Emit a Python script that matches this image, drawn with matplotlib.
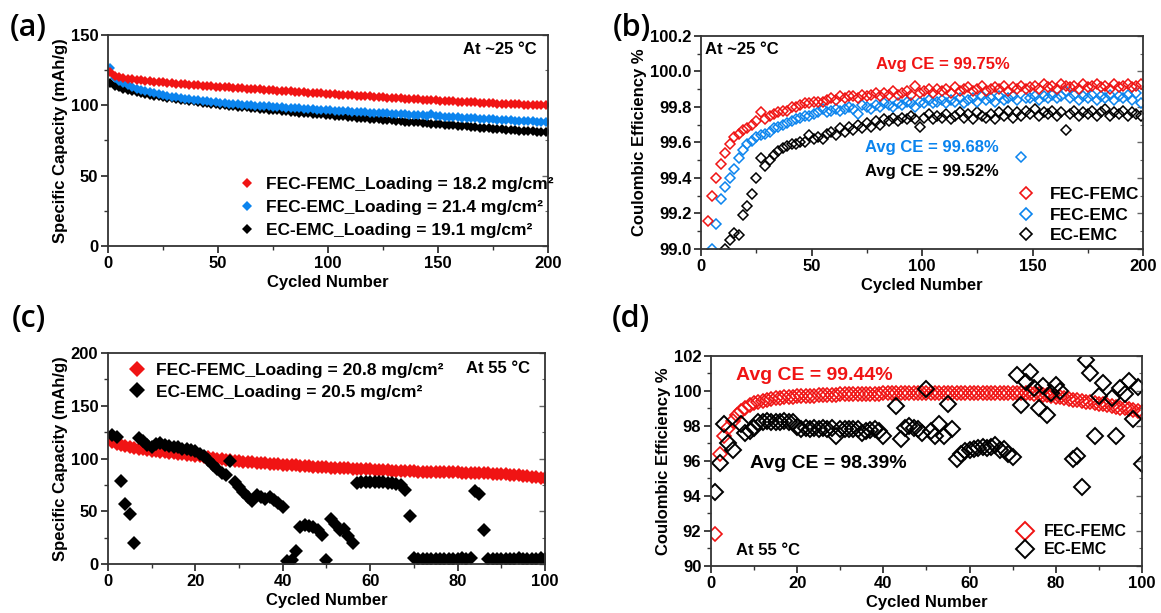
import numpy as np
import matplotlib.pyplot as plt
from matplotlib.lines import Line2D
from matplotlib.ticker import MultipleLocator

plt.rcParams['font.family'] = ['Liberation Sans', 'DejaVu Sans']
plt.rcParams['font.weight'] = 'bold'
plt.rcParams['axes.labelweight'] = 'bold'

RED = '#f01414'
BLUE = '#0b84ee'
BLACK = '#000000'

# ---------------- (a) capacity at ~25 C, every 2nd cycle ----------------
cyc_a = np.arange(1, 201, 2)
cap_fec_femc_a = [
    123.5, 120.5, 119.8, 119.3, 118.9, 118.5, 118.1, 117.8, 117.5, 117.2,
    116.9, 116.6, 116.3, 116.0, 115.7, 115.5, 115.2, 115.0, 114.7, 114.5,
    114.2, 114.0, 113.8, 113.5, 113.3, 113.1, 112.9, 112.7, 112.5, 112.3,
    112.1, 111.9, 111.7, 111.5, 111.3, 111.1, 110.9, 110.7, 110.5, 110.3,
    110.1, 109.9, 109.7, 109.5, 109.3, 109.1, 108.9, 108.7, 108.5, 108.3,
    108.1, 107.9, 107.7, 107.5, 107.3, 107.1, 106.9, 106.7, 106.5, 106.3,
    106.1, 105.9, 105.7, 105.5, 105.3, 105.1, 104.9, 104.7, 104.5, 104.4,
    104.2, 104.0, 103.9, 103.7, 103.5, 103.4, 103.2, 103.0, 102.9, 102.7,
    102.5, 102.4, 102.2, 102.1, 101.9, 101.8, 101.6, 101.5, 101.3, 101.2,
    101.0, 100.9, 100.8, 100.6, 100.5, 100.4, 100.3, 100.2, 100.1, 100.0]
cap_fec_emc_a = [
    126.5, 119.5, 117.5, 115.8, 114.3, 113.0, 111.9, 110.9, 110.0, 109.2,
    108.5, 107.8, 107.2, 106.6, 106.1, 105.6, 105.1, 104.7, 104.3, 103.9,
    103.5, 103.1, 102.8, 102.5, 102.2, 101.9, 101.6, 101.3, 101.0, 100.8,
    100.5, 100.3, 100.0, 99.8, 99.6, 99.4, 99.2, 99.0, 98.8, 98.6,
    98.4, 98.2, 98.0, 97.8, 97.6, 97.4, 97.2, 97.0, 96.9, 96.7,
    96.5, 96.3, 96.1, 95.9, 95.8, 95.6, 95.4, 95.2, 95.0, 94.9,
    94.7, 94.5, 94.3, 94.2, 94.0, 93.8, 93.6, 93.5, 93.3, 93.1,
    92.9, 92.8, 92.6, 93.6, 92.3, 92.1, 91.9, 91.8, 91.6, 91.4,
    91.2, 91.1, 90.9, 90.7, 90.5, 90.4, 90.2, 90.0, 89.9, 89.7,
    89.5, 89.4, 89.2, 89.0, 88.9, 88.7, 88.6, 88.4, 88.2, 88.1]
cap_ec_emc_a = [
    116.0, 114.0, 112.8, 111.8, 110.9, 110.1, 109.4, 108.7, 108.1, 107.5,
    106.9, 106.4, 105.9, 105.4, 104.9, 104.4, 104.0, 103.6, 103.2, 102.8,
    102.4, 102.0, 101.6, 101.2, 100.8, 100.4, 100.0, 99.7, 99.4, 99.1,
    98.8, 98.5, 98.2, 97.9, 97.6, 97.3, 97.0, 96.7, 96.4, 96.1,
    95.8, 95.5, 95.2, 94.9, 94.6, 94.3, 94.1, 93.8, 93.5, 93.2,
    93.0, 92.7, 92.4, 92.1, 91.9, 91.6, 91.3, 91.1, 90.8, 90.6,
    90.3, 90.0, 89.8, 89.5, 89.3, 89.0, 88.8, 88.5, 88.3, 88.0,
    87.8, 87.5, 87.3, 87.0, 86.8, 86.6, 86.3, 86.1, 85.9, 85.6,
    85.4, 85.2, 84.9, 84.5, 84.1, 83.8, 83.6, 83.4, 83.1, 82.9,
    82.7, 82.5, 82.2, 82.0, 81.8, 81.6, 81.4, 81.2, 81.0, 80.8]

# ---------------- (b) CE at ~25 C, every 2nd cycle ----------------
cyc_b_fec_femc = np.arange(3, 201, 2)
ce_fec_femc_b = [
    99.16, 99.30, 99.40, 99.48, 99.54, 99.59, 99.63, 99.65, 99.67, 99.68,
    99.70, 99.72, 99.77, 99.73, 99.75, 99.76, 99.77, 99.78, 99.78, 99.80,
    99.80, 99.81, 99.82, 99.82, 99.83, 99.83, 99.83, 99.84, 99.85, 99.84,
    99.86, 99.85, 99.86, 99.86, 99.85, 99.87, 99.86, 99.87, 99.88, 99.86,
    99.88, 99.87, 99.89, 99.87, 99.88, 99.89, 99.87, 99.92, 99.88, 99.89,
    99.90, 99.88, 99.90, 99.89, 99.90, 99.88, 99.91, 99.89, 99.90, 99.91,
    99.89, 99.90, 99.92, 99.89, 99.90, 99.91, 99.90, 99.92, 99.89, 99.91,
    99.90, 99.92, 99.90, 99.91, 99.92, 99.90, 99.93, 99.91, 99.92, 99.90,
    99.93, 99.92, 99.91, 99.92, 99.90, 99.93, 99.91, 99.92, 99.93, 99.91,
    99.92, 99.90, 99.93, 99.91, 99.92, 99.93, 99.91, 99.92, 99.93]
cyc_b_fec_emc = np.arange(5, 201, 2)
ce_fec_emc_b = [
    99.00, 99.14, 99.28, 99.35, 99.40, 99.45, 99.51, 99.56, 99.59, 99.61,
    99.63, 99.64, 99.65, 99.66, 99.68, 99.69, 99.70, 99.71, 99.72, 99.73,
    99.74, 99.75, 99.75, 99.76, 99.77, 99.79, 99.77, 99.78, 99.79, 99.78,
    99.79, 99.80, 99.79, 99.76, 99.81, 99.80, 99.79, 99.81, 99.80, 99.82,
    99.81, 99.80, 99.82, 99.81, 99.83, 99.82, 99.80, 99.83, 99.82, 99.84,
    99.82, 99.83, 99.84, 99.82, 99.84, 99.83, 99.85, 99.82, 99.84, 99.85,
    99.83, 99.86, 99.84, 99.85, 99.83, 99.86, 99.84, 99.85, 99.86, 99.84,
    99.52, 99.85, 99.85, 99.86, 99.84, 99.86, 99.85, 99.87, 99.85, 99.86,
    99.89, 99.85, 99.87, 99.84, 99.86, 99.85, 99.87, 99.84, 99.86, 99.85,
    99.87, 99.84, 99.86, 99.85, 99.87, 99.84, 99.88, 99.82]
cyc_b_ec_emc = np.arange(11, 201, 2)
ce_ec_emc_b = [
    99.00, 99.05, 99.09, 99.08, 99.19, 99.24, 99.31, 99.40, 99.51, 99.47,
    99.50, 99.53, 99.55, 99.57, 99.58, 99.59, 99.59, 99.60, 99.60, 99.64,
    99.62, 99.63, 99.62, 99.65, 99.66, 99.64, 99.68, 99.66, 99.69, 99.67,
    99.70, 99.68, 99.71, 99.69, 99.72, 99.70, 99.73, 99.72, 99.74, 99.72,
    99.74, 99.73, 99.75, 99.73, 99.69, 99.74, 99.76, 99.73, 99.75, 99.74,
    99.76, 99.73, 99.75, 99.77, 99.74, 99.76, 99.73, 99.77, 99.75, 99.74,
    99.76, 99.73, 99.77, 99.75, 99.78, 99.74, 99.77, 99.75, 99.78, 99.76,
    99.79, 99.75, 99.77, 99.76, 99.78, 99.75, 99.77, 99.67, 99.76, 99.78,
    99.75, 99.77, 99.76, 99.78, 99.75, 99.77, 99.79, 99.75, 99.77, 99.76,
    99.78, 99.75, 99.77, 99.76, 99.75]

# ---------------- (c) capacity at 55 C ----------------
cyc_c = np.arange(1, 101)
cap_fec_femc_c = [
    116.0, 114.0, 113.0, 112.0, 111.0, 110.0, 109.5, 109.0, 108.0, 107.5,
    107.0, 106.5, 106.0, 105.5, 105.0, 104.5, 104.0, 103.5, 103.0, 102.5,
    102.0, 101.5, 101.0, 100.5, 100.0, 99.5, 99.0, 98.5, 98.0, 97.5,
    97.0, 96.7, 96.4, 96.1, 95.8, 95.5, 95.2, 94.9, 94.6, 94.3,
    94.0, 93.7, 93.4, 93.1, 92.8, 92.5, 92.2, 92.0, 91.8, 91.6,
    91.4, 91.2, 91.0, 90.8, 90.6, 90.4, 90.2, 90.0, 89.8, 89.6,
    89.4, 89.2, 89.0, 88.8, 88.6, 88.4, 88.2, 88.0, 87.9, 87.8,
    87.7, 87.6, 87.5, 87.4, 87.3, 87.2, 87.1, 87.0, 86.9, 86.8,
    86.7, 86.6, 86.5, 86.4, 86.3, 86.1, 85.9, 85.7, 85.5, 85.3,
    85.0, 84.7, 84.4, 84.0, 83.6, 83.2, 82.8, 82.3, 81.8, 81.2]
cap_ec_emc_c = [
    122.0, 120.5, 79.0, 56.5, 47.0, 20.0, 119.0, 116.5, 113.0, 111.0,
    114.0, 115.0, 113.0, 112.0, 111.0, 110.5, 109.5, 109.5, 108.5, 107.0,
    104.5, 102.0, 98.5, 94.0, 90.0, 86.5, 84.0, 98.0, 78.0, 73.0,
    68.5, 64.0, 60.0, 65.0, 63.5, 62.0, 64.0, 61.0, 58.0, 54.5,
    3.0, 4.0, 12.5, 35.5, 37.0, 36.5, 35.5, 32.5, 27.5, 3.5,
    43.0, 38.0, 32.5, 33.5, 27.0, 20.0, 77.0, 77.5, 78.0, 78.0,
    78.0, 77.5, 77.5, 77.0, 76.5, 76.0, 75.0, 70.5, 45.5, 5.5,
    4.5, 5.0, 4.5, 5.0, 5.0, 4.5, 5.0, 5.0, 4.5, 5.0,
    5.5, 5.0, 5.5, 69.0, 66.0, 32.0, 4.5, 5.0, 4.5, 5.0,
    5.0, 4.5, 5.0, 5.5, 5.0, 4.5, 5.0, 5.0, 5.5, 5.0]

# ---------------- (d) CE at 55 C ----------------
cyc_d = np.arange(1, 101)
ce_fec_femc_d = [
    91.8, 96.4, 97.4, 97.9, 98.3, 98.6, 98.85, 99.05, 99.2, 99.3,
    99.38, 99.45, 99.5, 99.54, 99.58, 99.61, 99.64, 99.66, 99.68, 99.7,
    99.71, 99.72, 99.73, 99.74, 99.75, 99.76, 99.77, 99.78, 99.79, 99.8,
    99.8, 99.81, 99.82, 99.82, 99.83, 99.84, 99.84, 99.85, 99.85, 99.86,
    99.86, 99.87, 99.87, 99.87, 99.88, 99.88, 99.88, 99.89, 99.89, 99.89,
    99.89, 99.9, 99.9, 99.9, 99.9, 99.9, 99.9, 99.9, 99.9, 99.9,
    99.9, 99.9, 99.9, 99.9, 99.9, 99.9, 99.9, 99.9, 99.9, 99.9,
    99.9, 99.89, 99.88, 99.87, 99.85, 99.82, 99.79, 99.75, 99.71, 99.67,
    99.63, 99.59, 99.55, 99.51, 99.47, 99.43, 99.39, 99.35, 99.31, 99.27,
    99.23, 99.19, 99.15, 99.1, 99.05, 99.0, 98.95, 98.9, 98.85, 98.8]
ce_ec_emc_d = [
    94.2, 95.9, 98.1, 97.0, 96.6, np.nan, 98.1, 97.6, 97.7, 97.9,
    98.25, 98.2, 98.3, 98.2, 98.25, 98.2, 98.3, 98.2, 98.25, 97.95,
    97.85, 97.9, 97.85, 97.9, 97.85, 97.9, 97.85, 97.9, 97.4, 97.8,
    97.85, 97.8, 97.85, 97.8, 97.6, 97.7, 97.75, 97.8, 97.7, 97.45,
    np.nan, np.nan, 99.15, 97.25, 97.9, 98.0, 97.9, 97.8, 97.6, 100.1,
    97.7, 97.4, 98.1, 97.4, 99.25, 97.8, 96.1, 96.4, 96.55, 96.65,
    96.7, 96.75, 96.8, 96.75, 96.8, 96.9, 96.65, 96.7, 96.4, 96.25,
    100.9, 99.2, 100.5, 101.1, 100.15, 99.0, 100.3, 98.65, 99.9, 100.35,
    100.0, np.nan, np.nan, 96.1, 96.3, 94.5, 101.75, 101.0, 97.4, 99.7,
    100.45, np.nan, 99.6, 97.45, 100.15, 99.8, 100.55, 98.4, 100.25, 95.8]

FS = 12
LFS = 12.5
LW = 1.3


def style_axes(ax, xmaj, xmin, ymaj, ymin):
    for s in ax.spines.values():
        s.set_linewidth(LW)
        s.set_color('#333333')
    ax.xaxis.set_major_locator(MultipleLocator(xmaj))
    ax.xaxis.set_minor_locator(MultipleLocator(xmin))
    ax.yaxis.set_major_locator(MultipleLocator(ymaj))
    ax.yaxis.set_minor_locator(MultipleLocator(ymin))
    ax.tick_params(which='major', direction='out', length=5, width=LW,
                   labelsize=FS, pad=2, colors='#333333', labelcolor='black')
    ax.tick_params(which='minor', direction='out', length=3, width=1.0,
                   colors='#333333')
    sec = ax.secondary_yaxis('right')
    sec.yaxis.set_major_locator(MultipleLocator(ymaj))
    sec.yaxis.set_minor_locator(MultipleLocator(ymin))
    sec.tick_params(which='major', direction='in', length=4, width=1.0,
                    labelright=False, colors='#666666')
    sec.tick_params(which='minor', direction='in', length=2, width=0.8,
                    colors='#666666')
    sec.spines['right'].set_visible(False)
    ax.set_xlabel('Cycled Number', fontsize=FS, labelpad=3)


fig = plt.figure(figsize=(11.61, 6.13), dpi=100)

# (a)
ax = fig.add_axes([0.0930, 0.5987, 0.3790, 0.3442])
ax.plot(cyc_a, cap_ec_emc_a, 'D', color=BLACK, ms=5, mew=0)
ax.plot(cyc_a, cap_fec_emc_a, 'D', color=BLUE, ms=5, mew=0)
ax.plot(cyc_a, cap_fec_femc_a, 'D', color=RED, ms=5, mew=0)
ax.set_xlim(0, 200)
ax.set_ylim(0, 150)
style_axes(ax, 50, 25, 50, 25)
ax.set_ylabel('Specific Capacity (mAh/g)', fontsize=FS, labelpad=2)
ax.text(0.974, 0.93, 'At ~25 °C', transform=ax.transAxes, ha='right',
        va='center', fontsize=FS)
hs = [Line2D([], [], ls='', marker='D', color=c, ms=5.5, mew=0)
      for c in (RED, BLUE, BLACK)]
ax.legend(hs, ['FEC-FEMC_Loading = 18.2 mg/cm²',
               'FEC-EMC_Loading = 21.4 mg/cm²',
               'EC-EMC_Loading = 19.1 mg/cm²'],
          loc='lower left', bbox_to_anchor=(0.28, 0.005), frameon=False,
          fontsize=LFS, handlelength=1.0, handletextpad=0.6,
          labelspacing=0.45, borderaxespad=0.0)

# (b)
ax = fig.add_axes([0.6038, 0.5938, 0.3807, 0.3475])
ax.plot(cyc_b_ec_emc, ce_ec_emc_b, 'D', mfc='none', mec=BLACK, ms=5.5, mew=1.1)
ax.plot(cyc_b_fec_emc, ce_fec_emc_b, 'D', mfc='none', mec=BLUE, ms=5.5, mew=1.1)
ax.plot(cyc_b_fec_femc, ce_fec_femc_b, 'D', mfc='none', mec=RED, ms=5.5, mew=1.1)
ax.set_xlim(0, 200)
ax.set_ylim(99.0, 100.2)
style_axes(ax, 50, 25, 0.2, 0.1)
ax.yaxis.set_major_formatter(plt.FormatStrFormatter('%.1f'))
ax.set_ylabel('Coulombic Efficiency %', fontsize=FS, labelpad=2)
ax.text(0.009, 0.937, 'At ~25 °C', transform=ax.transAxes, ha='left',
        va='center', fontsize=FS)
ax.text(0.397, 0.866, 'Avg CE = 99.75%', transform=ax.transAxes,
        color=RED, fontsize=FS, va='center')
ax.text(0.372, 0.476, 'Avg CE = 99.68%', transform=ax.transAxes,
        color=BLUE, fontsize=FS, va='center')
ax.text(0.372, 0.362, 'Avg CE = 99.52%', transform=ax.transAxes,
        color=BLACK, fontsize=FS, va='center')
hs = [Line2D([], [], ls='', marker='D', mfc='none', mec=c, ms=6.5, mew=1.2)
      for c in (RED, BLUE, BLACK)]
ax.legend(hs, ['FEC-FEMC', 'FEC-EMC', 'EC-EMC'], loc='lower left',
          bbox_to_anchor=(0.70, -0.005), frameon=False, fontsize=LFS,
          handlelength=1.0, handletextpad=0.9, labelspacing=0.3,
          borderaxespad=0.0)

# (c)
ax = fig.add_axes([0.0930, 0.0799, 0.3764, 0.3442])
ax.plot(cyc_c, cap_fec_femc_c, 'D', color=RED, ms=7, mew=0)
ax.plot(cyc_c, cap_ec_emc_c, 'D', color=BLACK, ms=7.5, mew=0)
ax.set_xlim(0, 100)
ax.set_ylim(0, 200)
style_axes(ax, 20, 10, 50, 25)
ax.set_ylabel('Specific Capacity (mAh/g)', fontsize=FS, labelpad=2)
ax.text(0.819, 0.926, 'At 55 °C', transform=ax.transAxes, ha='left',
        va='center', fontsize=FS)
hs = [Line2D([], [], ls='', marker='D', color=c, ms=8, mew=0)
      for c in (RED, BLACK)]
ax.legend(hs, ['FEC-FEMC_Loading = 20.8 mg/cm²',
               'EC-EMC_Loading = 20.5 mg/cm²'],
          loc='upper left', bbox_to_anchor=(0.03, 0.985), frameon=False,
          fontsize=LFS, handlelength=1.0, handletextpad=0.6,
          labelspacing=0.35, borderaxespad=0.0)

# (d)
ax = fig.add_axes([0.6124, 0.0767, 0.3712, 0.3426])
ax.plot(cyc_d, ce_fec_femc_d, 'D', mfc='none', mec=RED, ms=7.5, mew=1.2)
ax.plot(cyc_d, ce_ec_emc_d, 'D', mfc='none', mec=BLACK, ms=8, mew=1.4)
ax.set_xlim(0, 100)
ax.set_ylim(90, 102)
style_axes(ax, 20, 10, 2, 1)
ax.set_ylabel('Coulombic Efficiency %', fontsize=FS, labelpad=2)
ax.text(0.058, 0.076, 'At 55 °C', transform=ax.transAxes, ha='left',
        va='center', fontsize=FS)
ax.text(0.058, 0.908, 'Avg CE = 99.44%', transform=ax.transAxes,
        color=RED, fontsize=14, va='center')
ax.text(0.09, 0.487, 'Avg CE = 98.39%', transform=ax.transAxes,
        color=BLACK, fontsize=14, va='center')
hs = [Line2D([], [], ls='', marker='D', mfc='none', mec=c, ms=9, mew=1.4)
      for c in (RED, BLACK)]
ax.legend(hs, ['FEC-FEMC', 'EC-EMC'], loc='lower left',
          bbox_to_anchor=(0.695, 0.01), frameon=False, fontsize=11.5,
          handlelength=1.0, handletextpad=0.7, labelspacing=0.2,
          borderaxespad=0.0)

# panel letters
for lab, x, y in [('(a)', 0.008, 0.955), ('(b)', 0.528, 0.955),
                  ('(c)', 0.010, 0.48), ('(d)', 0.527, 0.48)]:
    fig.text(x, y, lab, fontsize=22, family='Open Sans', weight='semibold',
             ha='left', va='center')

fig.savefig('out.png', dpi=100)
